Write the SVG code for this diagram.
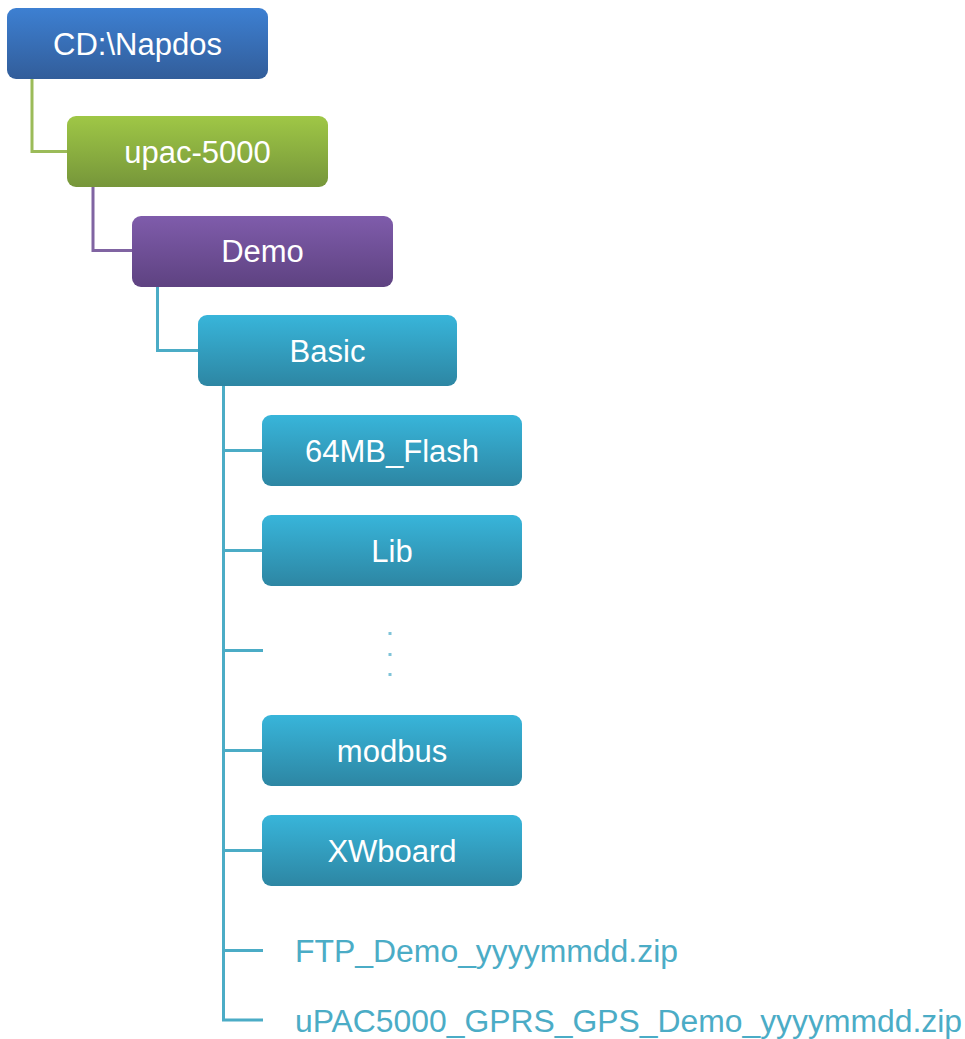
<svg xmlns="http://www.w3.org/2000/svg" width="965" height="1039" viewBox="0 0 965 1039">
<defs>
<linearGradient id="gBlue" x1="0" y1="0" x2="0" y2="1"><stop offset="0" stop-color="#3d80d2"/><stop offset="1" stop-color="#325d9a"/></linearGradient>
<linearGradient id="gGreen" x1="0" y1="0" x2="0" y2="1"><stop offset="0" stop-color="#9fc746"/><stop offset="1" stop-color="#76963a"/></linearGradient>
<linearGradient id="gPurple" x1="0" y1="0" x2="0" y2="1"><stop offset="0" stop-color="#7f5cab"/><stop offset="1" stop-color="#5e4281"/></linearGradient>
<linearGradient id="gTeal" x1="0" y1="0" x2="0" y2="1"><stop offset="0" stop-color="#38b5da"/><stop offset="1" stop-color="#2d86a3"/></linearGradient>
</defs>
<style>
.box{stroke:none}
.lbl{font-family:"Liberation Sans",Arial,sans-serif;font-size:31px;fill:#ffffff;text-anchor:middle;dominant-baseline:central}
.file{font-family:"Liberation Sans",Arial,sans-serif;font-size:31px;fill:#4bacc6;dominant-baseline:central}
.c{fill:none;stroke-width:3}
.cg{stroke:#9bbb59}.cp{stroke:#8064a2}.ct{stroke:#4bacc6}
</style>
<rect width="965" height="1039" fill="#ffffff"/>
<g id="connectors">
<path class="c cg" d="M32,79 V151.5 H67"/>
<path class="c cp" d="M93,187 V250.5 H132"/>
<path class="c ct" d="M157.5,287 V350.5 H198"/>
<path class="c ct" d="M223.5,386 V1020 H263"/>
<path class="c ct" d="M223.5,450.5 H262 M223.5,550.5 H262 M223.5,650.5 H263 M223.5,750.5 H262 M223.5,850.5 H262 M223.5,950.5 H263"/>
</g>
<g id="n-napdos"><rect class="box" x="7" y="8" width="261" height="71" rx="9" fill="url(#gBlue)"/><text class="lbl" x="137.5" y="44">CD:\Napdos</text></g>
<g id="n-upac"><rect class="box" x="67" y="116" width="261" height="71" rx="9" fill="url(#gGreen)"/><text class="lbl" x="197.5" y="152">upac-5000</text></g>
<g id="n-demo"><rect class="box" x="132" y="216" width="261" height="71" rx="9" fill="url(#gPurple)"/><text class="lbl" x="262.5" y="251">Demo</text></g>
<g id="n-basic"><rect class="box" x="198" y="315" width="259" height="71" rx="9" fill="url(#gTeal)"/><text class="lbl" x="327.5" y="351">Basic</text></g>
<g id="n-flash"><rect class="box" x="262" y="415" width="260" height="71" rx="9" fill="url(#gTeal)"/><text class="lbl" x="392" y="451">64MB_Flash</text></g>
<g id="n-lib"><rect class="box" x="262" y="515" width="260" height="71" rx="9" fill="url(#gTeal)"/><text class="lbl" x="392" y="551">Lib</text></g>
<g id="n-dots" fill="#7fc3d8"><rect x="388.5" y="632" width="3" height="3"/><rect x="388.5" y="653" width="3" height="3"/><rect x="388.5" y="673" width="3" height="3"/></g>
<g id="n-modbus"><rect class="box" x="262" y="715" width="260" height="71" rx="9" fill="url(#gTeal)"/><text class="lbl" x="392" y="751">modbus</text></g>
<g id="n-xwboard"><rect class="box" x="262" y="815" width="260" height="71" rx="9" fill="url(#gTeal)"/><text class="lbl" x="392" y="851">XWboard</text></g>
<g id="n-ftp"><text class="file" x="295" y="951" textLength="383" lengthAdjust="spacingAndGlyphs">FTP_Demo_yyyymmdd.zip</text></g>
<g id="n-gprs"><text class="file" x="295" y="1021" textLength="667" lengthAdjust="spacingAndGlyphs">uPAC5000_GPRS_GPS_Demo_yyyymmdd.zip</text></g>
</svg>
